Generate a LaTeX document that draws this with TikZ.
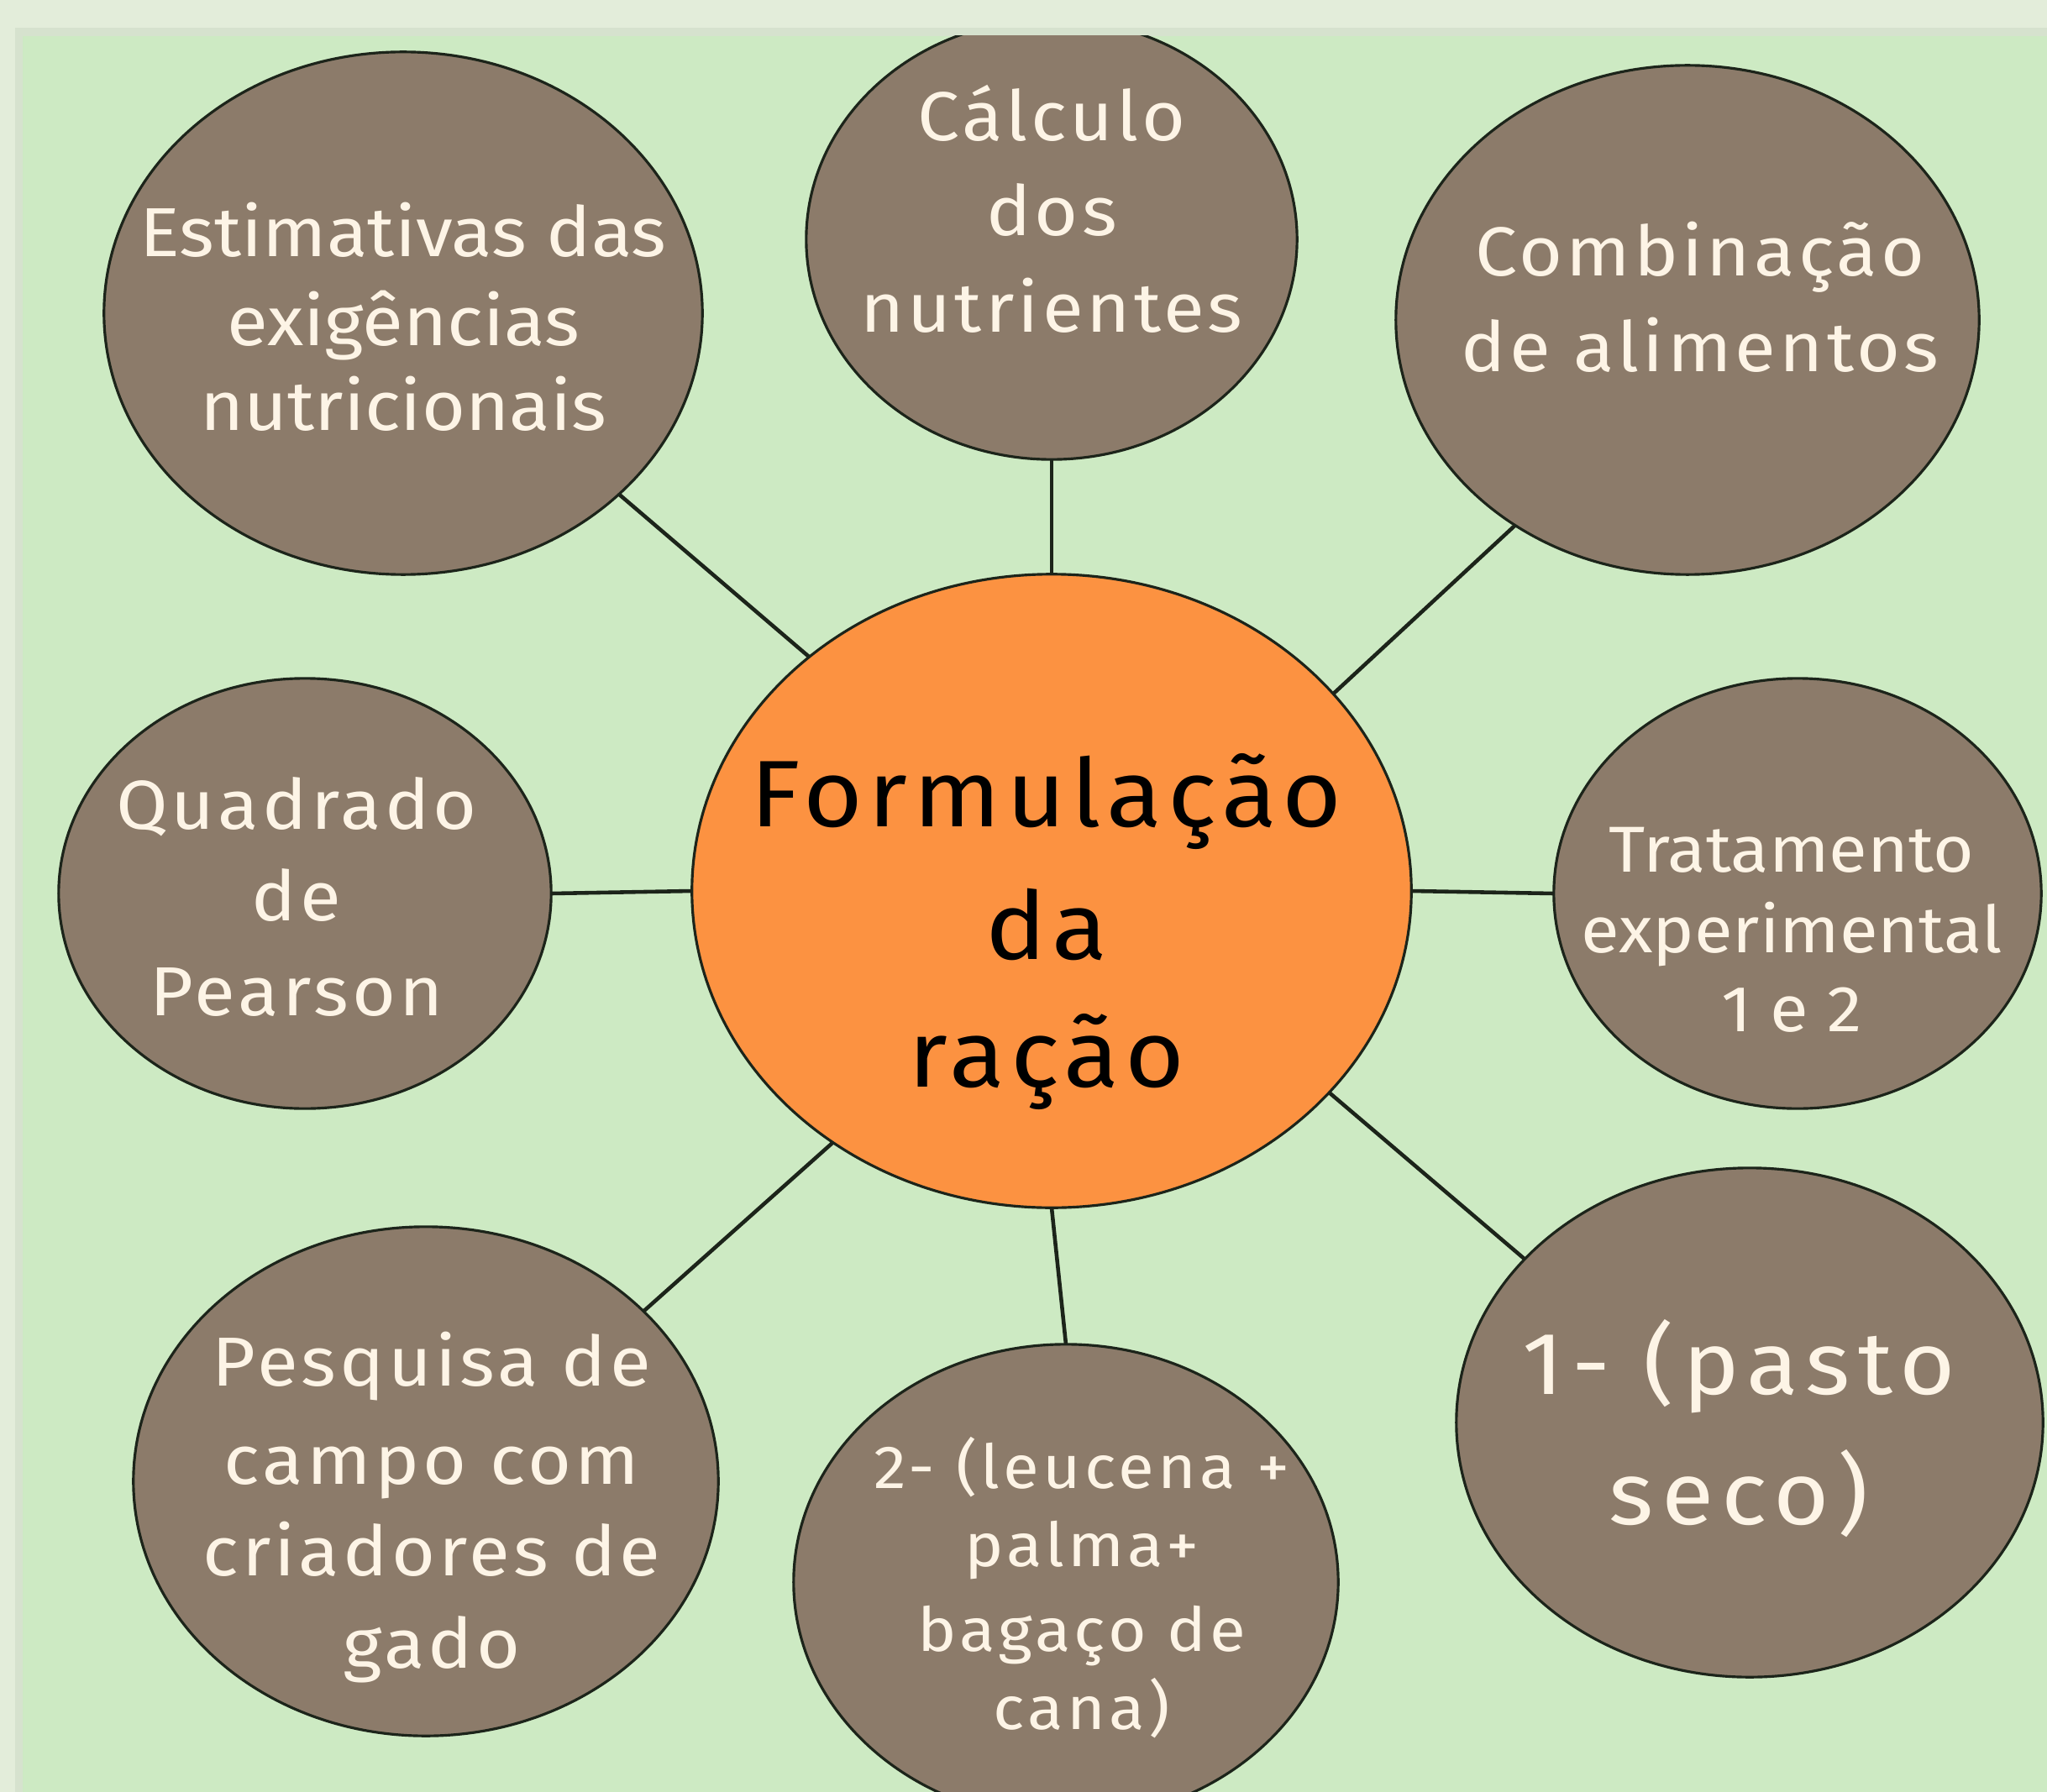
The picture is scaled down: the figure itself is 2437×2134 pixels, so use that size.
\documentclass[tikz,border=0pt]{standalone}
\usepackage{fontspec}
\setmainfont{Fira Sans}
\newfontfamily\fsTight[FakeStretch=1.08]{Fira Sans}
\newfontfamily\fsWide[FakeStretch=1.08,LetterSpace=5]{Fira Sans}
\newfontfamily\fsWider[FakeStretch=1.08,LetterSpace=6]{Fira Sans}
\newfontfamily\fsWidest[FakeStretch=1.08,LetterSpace=9]{Fira Sans}
\usetikzlibrary{shapes.geometric}
\definecolor{frame}{HTML}{E3EDDA}
\definecolor{frameshade}{HTML}{D6E2CE}
\definecolor{panel}{HTML}{CDEAC3}
\definecolor{bubble}{HTML}{8C7B6A}
\definecolor{hub}{HTML}{FC9241}
\definecolor{cream}{HTML}{FDF4E6}
\definecolor{ink}{HTML}{1C241A}
\begin{document}
\begin{tikzpicture}[x=0.01cm,y=-0.01cm,
 bub/.style={ellipse, draw=ink, line width=0.9pt, fill=bubble, inner sep=0pt, outer sep=0pt},
 hubst/.style={ellipse, draw=ink, line width=0.9pt, fill=hub, inner sep=0pt, outer sep=0pt},
 conn/.style={draw=ink, line width=1.3pt},
 lbl/.style={anchor=base, text=cream, inner sep=0pt},
 hublbl/.style={anchor=base, text=black, inner sep=0pt, font=\fsWider\fontsize{32}{38}\selectfont},
 fT/.style={font=\fsTight\fontsize{23.5}{28}\selectfont},
 fA/.style={font=\fsWide\fontsize{23.5}{28}\selectfont},
 fB/.style={font=\fsTight\fontsize{22}{26}\selectfont},
 fC/.style={font=\fsWider\fontsize{20.6}{25}\selectfont},
 fD/.style={font=\fsWidest\fontsize{30}{36}\selectfont},
]
\useasboundingbox (0,0) rectangle (2437,2134);
\fill[frame] (0,0) rectangle (2437,2134);
\fill[frameshade] (18,33) rectangle (2437,2134);
\begin{scope}
\clip (27,43) rectangle (2437,2134);
\fill[panel] (27,43) rectangle (2437,2134);
% shapes
\node[hubst, minimum width=8.56cm, minimum height=7.54cm] (c) at (1252,1061) {};
\node[bub, minimum width=7.12cm, minimum height=6.22cm] (e1) at (480,373) {};
\node[bub, minimum width=5.84cm, minimum height=5.24cm] (e2) at (1252,285) {};
\node[bub, minimum width=6.94cm, minimum height=6.06cm] (e3) at (2009,381) {};
\node[bub, minimum width=5.86cm, minimum height=5.12cm] (e4) at (363,1064) {};
\node[bub, minimum width=5.80cm, minimum height=5.12cm] (e5) at (2140,1064) {};
\node[bub, minimum width=6.96cm, minimum height=6.06cm] (e6) at (507,1764) {};
\node[bub, minimum width=6.48cm, minimum height=5.66cm] (e7) at (1269,1884) {};
\node[bub, minimum width=6.98cm, minimum height=6.06cm] (e8) at (2083,1694) {};
% connectors
\draw[conn] (c.136.7) -- (e1.-40.7);
\draw[conn] (c.90) -- (e2.270);
\draw[conn] (c.35.4) -- (e3.230.8);
\draw[conn] (c.180) -- (e4.0);
\draw[conn] (c.0) -- (e5.180);
\draw[conn] (c.229.3) -- (e6.38.2);
\draw[conn] (c.270) -- (e7.90);
\draw[conn] (c.-36.1) -- (e8.144.1);
% texts
\node[lbl,fT] (t1a) at (480,306) {Estimativas das};
\node[lbl,fT] (t1b) at (480,412) {exigências};
\node[lbl,fT] (t1c) at (480,513) {nutricionais};
\node[lbl,fA] (t2a) at (1252,168) {Cálculo};
\node[lbl,fA] (t2b) at (1252,281) {dos};
\node[lbl,fA] (t2c) at (1252,396) {nutrientes};
\node[lbl,fA] (t3a) at (2024,329) {Combinação};
\node[lbl,fA] (t3b) at (2024,443) {de alimentos};
\node[lbl,fA] (t4a) at (353,987) {Quadrado};
\node[lbl,fA] (t4b) at (353,1096) {de};
\node[lbl,fA] (t4c) at (353,1209) {Pearson};
\node[lbl,fB] (t5a) at (2133,1038) {Tratamento};
\node[lbl,fB] (t5b) at (2133,1134) {experimental};
\node[lbl,fB] (t5c) at (2133,1228) {1 e 2};
\node[hublbl] (tca) at (1246,984) {Formulação};
\node[hublbl] (tcb) at (1246,1142) {da};
\node[hublbl] (tcc) at (1246,1294) {ração};
\node[lbl,fA] (t6a) at (514,1650) {Pesquisa de};
\node[lbl,fA] (t6b) at (514,1767) {campo com};
\node[lbl,fA] (t6c) at (514,1876) {criadores de};
\node[lbl,fA] (t6d) at (514,1986) {gado};
\node[lbl,fC] (t7a) at (1288,1772) {2- (leucena +};
\node[lbl,fC] (t7b) at (1288,1865) {palma+};
\node[lbl,fC] (t7c) at (1288,1966) {bagaço de};
\node[lbl,fC] (t7d) at (1288,2059) {cana)};
\node[lbl,fD] (t8a) at (2070,1660) {1- (pasto};
\node[lbl,fD] (t8b) at (2070,1815) {seco)};
\end{scope}
\end{tikzpicture}
\end{document}
